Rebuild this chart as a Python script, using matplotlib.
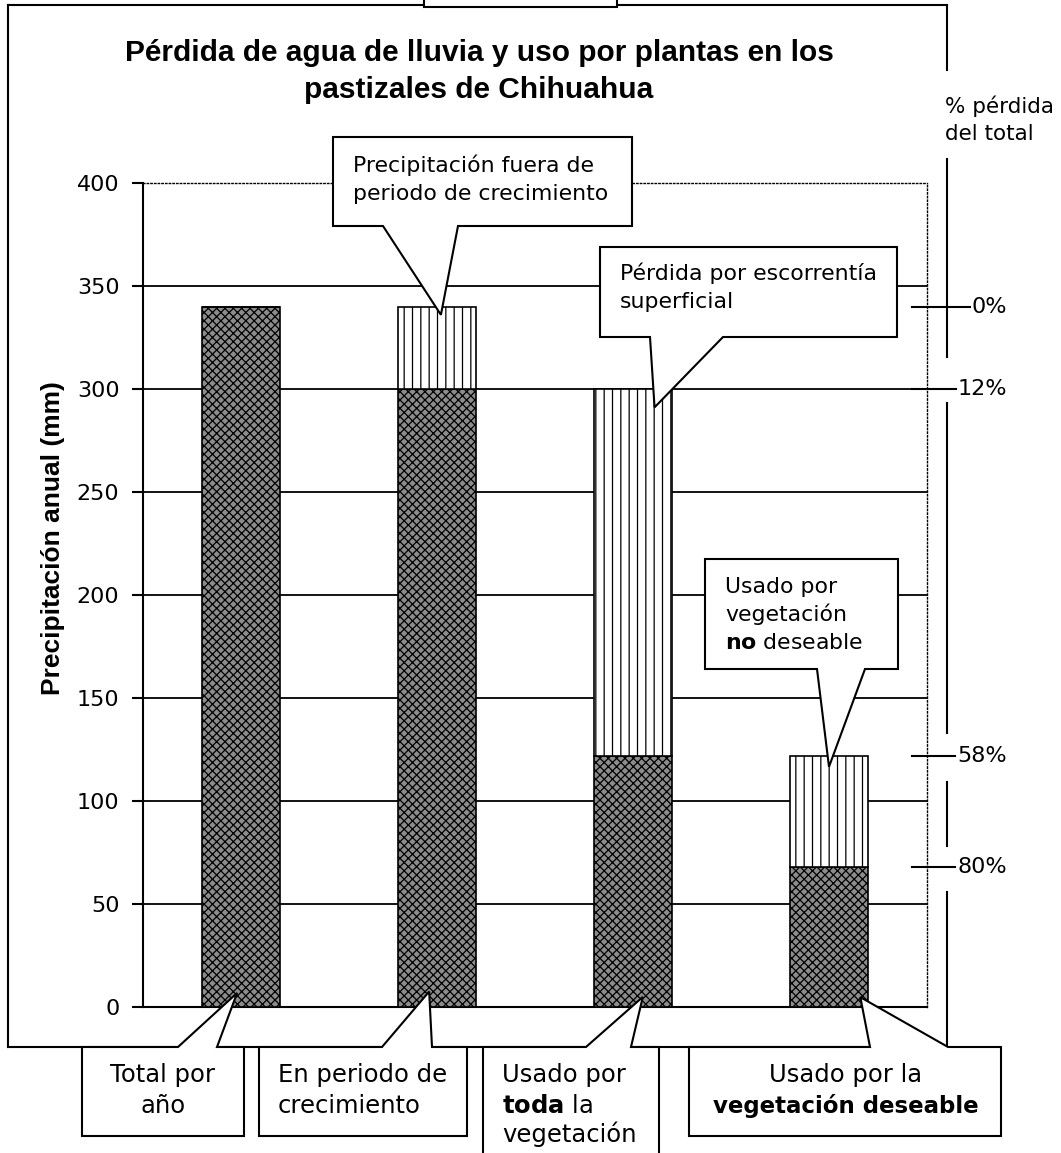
import numpy as np
import matplotlib.pyplot as plt
from matplotlib.patches import Polygon, Rectangle
from matplotlib.lines import Line2D

# figure size in pixels (dpi 100)
W, H = 1061, 1153

# data
categories = ["Total por año", "En periodo de crecimiento",
              "Usado por toda la vegetación", "Usado por la vegetación deseable"]
used_mm = [340, 300, 122, 68]      # dark part of each bar
lost_mm = [0, 40, 178, 54]         # striped part stacked on top
yticks = [0, 50, 100, 150, 200, 250, 300, 350, 400]
pct_labels = ["0%", "12%", "58%", "80%"]
pct_levels = [340, 300, 122, 68]

plt.rcParams['font.family'] = ['DejaVu Sans']
plt.rcParams['hatch.linewidth'] = 0.9
plt.rcParams['mathtext.fontset'] = 'dejavusans'


def fxy(x, y):
    # pixel (top-left origin) -> figure fraction
    return x / W, 1 - y / H


fig = plt.figure(figsize=(W / 100, H / 100), dpi=100)
ax = fig.add_axes([143 / W, 1 - 1007 / H, 784 / W, 824 / H])

xpos = np.arange(len(categories))
ax.bar(xpos, used_mm, width=0.4, color='#8c8c8c', edgecolor='black',
       hatch='xxxx', lw=1.2, zorder=3)
ax.bar(xpos, lost_mm, bottom=used_mm, width=0.4, color='white',
       edgecolor='black', hatch='||', lw=1.2, zorder=3)

ax.set_xlim(-0.5, len(categories) - 0.5)
ax.set_ylim(0, 400)
ax.set_yticks(yticks)
ax.set_xticks([])
for v in yticks[1:-1]:
    ax.axhline(v, color='black', lw=1.3, zorder=1)

for s in ['top', 'right']:
    ax.spines[s].set_linestyle(':')
    ax.spines[s].set_linewidth(1.0)
for s in ['left', 'bottom']:
    ax.spines[s].set_linewidth(1.5)
ax.tick_params(axis='y', direction='out', length=8, width=1.5, pad=9,
               labelsize=16)

fig.text(53 / W, 1 - 538 / H, "Precipitación anual (mm)", rotation=90,
         ha='center', va='center', fontsize=19, fontweight='bold',
         family='Liberation Sans')

# title
fig.text(*fxy(479, 53), "Pérdida de agua de lluvia y uso por plantas en los",
         ha='center', va='center', fontsize=21.5, fontweight='bold',
         family='Liberation Sans')
fig.text(*fxy(479, 90), "pastizales de Chihuahua",
         ha='center', va='center', fontsize=21.5, fontweight='bold',
         family='Liberation Sans')


def line_px(xs, ys, lw=1.5, z=2, **kw):
    p = [fxy(a, b) for a, b in zip(xs, ys)]
    fig.add_artist(Line2D([q[0] for q in p], [q[1] for q in p], color='black',
                          lw=lw, transform=fig.transFigure, zorder=z, **kw))


# outer frame (right side broken behind the labels)
line_px([8, 947], [5, 5])
line_px([8, 8], [5, 1047])
line_px([8, 947], [1047, 1047])
for a, b in [(5, 70), (159, 357), (403, 733), (782, 846), (892, 1047)]:
    line_px([947, 947], [a, b])

# small box cut at top
fig.add_artist(Rectangle(fxy(424, 7), 193 / W, 20 / H, transform=fig.transFigure,
                         facecolor='white', edgecolor='black', lw=1.5, zorder=4))


def data_px(xd, yd):
    dx, dy = ax.transData.transform((xd, yd))
    return dx, H - dy


def callout(box, base, tip, side):
    x0, y0, x1, y1 = box
    tx, ty = data_px(*tip)
    if side == 'bottom':
        pts = [(x0, y0), (x1, y0), (x1, y1), (base[1], y1), (tx, ty),
               (base[0], y1), (x0, y1)]
    else:
        pts = [(x0, y0), (base[0], y0), (tx, ty), (base[1], y0), (x1, y0),
               (x1, y1), (x0, y1)]
    fig.add_artist(Polygon([fxy(a, b) for a, b in pts], closed=True,
                           transform=fig.transFigure, facecolor='white',
                           edgecolor='black', lw=1.5, zorder=5))


def seg(i, frac, dx=0.0, striped=True):
    if striped:
        return (xpos[i] + dx, used_mm[i] + frac * lost_mm[i])
    return (xpos[i] + dx, frac * used_mm[i])


# callouts above
callout((333, 137, 632, 226), (383, 458), seg(1, 0.9, 0.02), 'bottom')
callout((600, 247, 897, 337), (650, 723), seg(2, 0.95, 0.11), 'bottom')
callout((705, 559, 898, 669), (817, 865), seg(3, 0.9, 0.0), 'bottom')

# callouts below
callout((82, 1047, 244, 1136), (178, 217), seg(0, 0.02, -0.02, False), 'top')
callout((259, 1047, 467, 1136), (382, 432), seg(1, 0.025, -0.04, False), 'top')
callout((483, 1047, 659, 1175), (586, 631), seg(2, 0.04, 0.05, False), 'top')
callout((689, 1047, 1001, 1136), (870, 948), seg(3, 0.07, 0.16, False), 'top')


def txt(x, y, s, ha='left', size=15.8, **kw):
    fig.text(*fxy(x, y), s, ha=ha, va='baseline', fontsize=size, zorder=7, **kw)


txt(353, 172, "Precipitación fuera de")
txt(353, 200, "periodo de crecimiento")
txt(620, 280, "Pérdida por escorrentía")
txt(620, 308, "superficial")
txt(725, 593, "Usado por")
txt(725, 621, "vegetación")
txt(725, 649, r"$\mathbf{no}$ deseable")

txt(163, 1082, "Total por", ha='center', size=17.5)
txt(163, 1113, "año", ha='center', size=17.5)
txt(278, 1082, "En periodo de", size=17.5)
txt(278, 1113, "crecimiento", size=17.5)
txt(502, 1082, "Usado por", size=17.5)
txt(502, 1113, r"$\mathbf{toda}$ la", size=17.5)
txt(502, 1142, "vegetación", size=17.5)
txt(846, 1082, "Usado por la", ha='center', size=17.5)
txt(846, 1113, "vegetación deseable", ha='center', size=16.5, fontweight='bold')

# % loss scale at right
txt(945, 113, "% pérdida", size=15.5)
txt(945, 140, "del total", size=15.5)

fig.canvas.draw()
renderer = fig.canvas.get_renderer()
for lab, lev in zip(pct_labels, pct_levels):
    _, yp = data_px(0, lev)
    t = fig.text(*fxy(1007, yp), lab, ha='right', va='center', fontsize=16,
                 zorder=7)
    left = t.get_window_extent(renderer).x0
    line_px([912, left - 2], [yp, yp], lw=1.5, z=6)

fig.savefig("out.png", dpi=100)
